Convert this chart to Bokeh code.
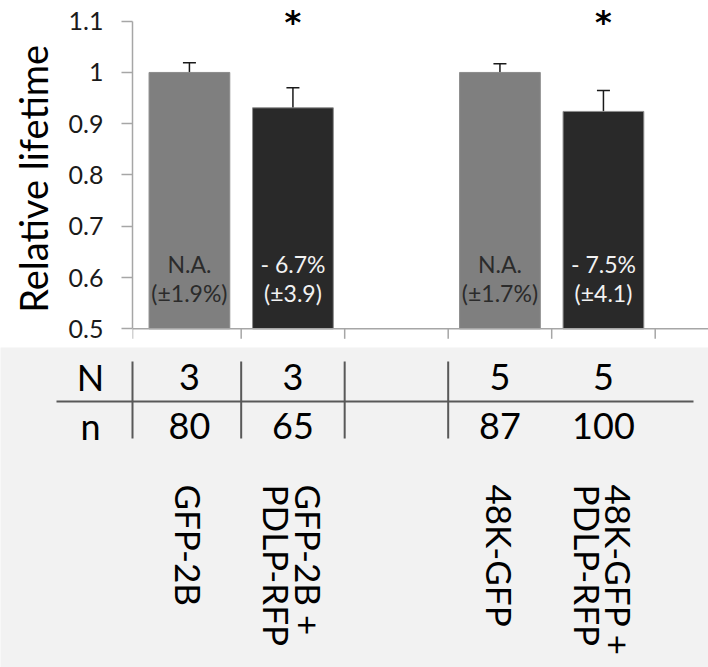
import numpy as np
from bokeh.plotting import figure
from bokeh.models import ColumnDataSource, Range1d, FixedTicker, Whisker, TeeHead
from bokeh.layouts import column
from bokeh.core.properties import value
from bokeh.embed import file_html
from bokeh.resources import INLINE

# ---------------- data ----------------
groups = ["GFP-2B", "GFP-2B +\nPDLP-RFP", "48K-GFP", "48K-GFP +\nPDLP-RFP"]
slots = [0, 1, 3, 4]          # category slot (slot 2 is the empty gap)
rel_lifetime = [1.0, 0.931, 1.0, 0.924]
err = [0.019, 0.039, 0.017, 0.041]
bar_colors = ["#7f7f7f", "#292929", "#7f7f7f", "#292929"]
note_line1 = ["N.A.", "- 6.7%", "N.A.", "- 7.5%"]
note_line2 = ["(±1.9%)", "(±3.9)", "(±1.7%)", "(±4.1)"]
note_colors = ["#2b2b2b", "#f2f2f2", "#2b2b2b", "#f2f2f2"]
significance = ["", "*", "", "*"]
row_names = ["N", "n"]
N_values = ["3", "3", "5", "5"]
n_values = ["80", "65", "87", "100"]
y_ticks = [0.5, 0.6, 0.7, 0.8, 0.9, 1.0, 1.1]
y_tick_labels = ["0.5", "0.6", "0.7", "0.8", "0.9", "1", "1.1"]
y_title = "Relative  lifetime"
boundaries = [0, 1, 2, 3, 4, 5]

# ---------------- layout ----------------
FONT = value("Lato")
W = 708
TOP_H = 347
BOT_H = 320
LEFT = 132
X0, X1 = -0.05, 5.515
PXU = (W - LEFT) / (X1 - X0)
PYU = 512.7                      # pixels per unit of relative lifetime
Y0 = 0.5 - 18.7 / PYU
Y1 = 0.5 + 328.3 / PYU
AXIS_COLOR = "#a6a6a6"

centers = [s + 0.5 for s in slots]
src = ColumnDataSource(dict(
    x=centers, top=rel_lifetime, color=bar_colors,
    upper=[v + e for v, e in zip(rel_lifetime, err)],
    lower=[v - e for v, e in zip(rel_lifetime, err)],
    l1=note_line1, l2=note_line2, tcolor=note_colors, sig=significance,
    y1=[0.626] * 4, y2=[0.570] * 4, ysig=[Y1 - 2 / PYU] * 4,
))

p = figure(width=W, height=TOP_H, x_range=Range1d(X0, X1), y_range=Range1d(Y0, Y1),
           output_backend="svg", toolbar_location=None, x_axis_location=None,
           min_border_left=LEFT, min_border_right=0, min_border_top=0, min_border_bottom=0)
p.frame_align = False
p.title.visible = False
p.grid.visible = False
p.outline_line_color = None

p.vbar(x="x", top="top", bottom=0.5, width=0.78, fill_color="color",
       line_color="#8c8c8c", line_width=1, source=src)

whisk = Whisker(base="x", upper="upper", lower="lower", source=src,
                line_color="#1a1a1a", line_width=1.5,
                upper_head=TeeHead(size=13, line_color="#1a1a1a", line_width=1.5),
                lower_head=TeeHead(size=13, line_color="#1a1a1a", line_width=1.5))
p.add_layout(whisk)

p.text(x="x", y="y1", text="l1", text_color="tcolor", source=src, text_font=FONT,
       text_font_size="23px", text_align="center", text_baseline="middle")
p.text(x="x", y="y2", text="l2", text_color="tcolor", source=src, text_font=FONT,
       text_font_size="23px", text_align="center", text_baseline="middle")
p.text(x="x", y="ysig", text="sig", text_color="#000000", source=src,
       text_font=value("DejaVu Sans"), text_font_size="32px", text_font_style="bold",
       text_align="center", text_baseline="top")

# category (x) axis: baseline and boundary ticks
tick_x = [X0] + boundaries[1:]
p.segment(x0=[X0], y0=[0.5], x1=[X1], y1=[0.5], line_color=AXIS_COLOR, line_width=1.5)
p.segment(x0=tick_x, y0=[0.5] * len(tick_x), x1=tick_x, y1=[0.5 - 10 / PYU] * len(tick_x),
          line_color=AXIS_COLOR, line_width=1.5)

# y axis
ya = p.yaxis[0]
ya.ticker = FixedTicker(ticks=y_ticks)
ya.major_label_overrides = {t: s for t, s in zip(y_ticks, y_tick_labels)}
ya.bounds = (0.5, 1.1)
ya.axis_line_color = AXIS_COLOR
ya.axis_line_width = 1.5
ya.major_tick_line_color = AXIS_COLOR
ya.major_tick_line_width = 1.5
ya.major_tick_out = 11
ya.major_tick_in = 0
ya.minor_tick_out = 0
ya.minor_tick_in = 0
ya.major_label_text_font = "Lato"
ya.major_label_text_font_size = "25px"
ya.major_label_text_color = "#1a1a1a"
ya.major_label_standoff = 18
ya.axis_label = y_title
ya.axis_label_text_font = "Lato"
ya.axis_label_text_font_size = "38px"
ya.axis_label_text_font_style = "normal"
ya.axis_label_text_color = "#000000"
ya.axis_label_standoff = 10

# ---------------- lower table panel ----------------
q = figure(width=W, height=BOT_H, x_range=Range1d(X0 - LEFT / PXU, X1),
           y_range=Range1d(BOT_H, 0), output_backend="svg", toolbar_location=None,
           min_border=0, x_axis_location=None, y_axis_location=None,
           background_fill_color="#f2f2f2", border_fill_color="#f2f2f2")
q.frame_align = False
q.title.visible = False
q.grid.visible = False
q.outline_line_color = None

ROW_Y = [29.5, 78.5]
LINE_Y = 54
VTOP, VBOT = 14, 91
LABEL_TOP = 137
ROW_LABEL_X = X0 + (90 - LEFT) / PXU
TABLE_COLOR = "#595959"

q.segment(x0=[X0 + (56 - LEFT) / PXU], y0=[LINE_Y], x1=[X0 + (693 - LEFT) / PXU], y1=[LINE_Y],
          line_color=TABLE_COLOR, line_width=2)
vx = [X0] + boundaries[1:4]
q.segment(x0=vx, y0=[VTOP] * len(vx), x1=vx, y1=[VBOT] * len(vx),
          line_color=TABLE_COLOR, line_width=2)

q.text(x=[ROW_LABEL_X] * 2, y=ROW_Y, text=row_names, text_font=FONT, text_font_size="36px",
       text_align="center", text_baseline="middle", text_color="#000000")
q.text(x=centers, y=[ROW_Y[0]] * 4, text=N_values, text_font=FONT, text_font_size="36px",
       text_align="center", text_baseline="middle", text_color="#000000")
q.text(x=centers, y=[ROW_Y[1]] * 4, text=n_values, text_font=FONT, text_font_size="36px",
       text_align="center", text_baseline="middle", text_color="#000000")
q.text(x=centers, y=[LABEL_TOP] * 4, text=groups, angle=-np.pi / 2, text_font=FONT,
       text_font_size="35px", text_align="left", text_baseline="middle",
       text_line_height=0.75, text_color="#000000")

layout = column(p, q, spacing=0)
open("out.html", "w").write(file_html(layout, INLINE))
